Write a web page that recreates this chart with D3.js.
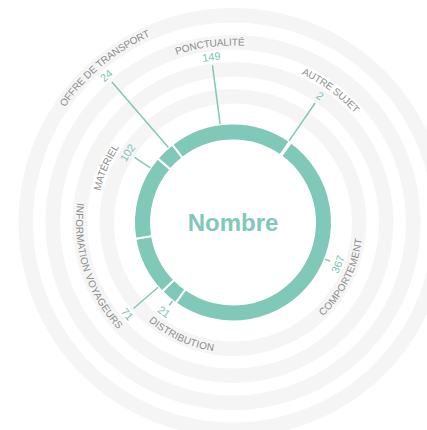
<!DOCTYPE html>
<html>
<head>
<meta charset="utf-8">
<script src="https://cdn.jsdelivr.net/npm/d3@7"></script>
<style>
	body { margin: 0; background: #fff; }
	svg { display: block; font-family: "Liberation Sans", Arial, sans-serif; }
	.band { fill: #f5f5f5; }
	.slice { fill: #80c8b8; stroke: #fff; stroke-width: 2; }
	.leader { stroke: #80c8b8; stroke-width: 1.5; fill: none; }
	.label { fill: #8c8c8c; font-size: 10px; }
	.value { fill: #7cc6b5; font-size: 11px; }
	.title { fill: #80c8b8; font-size: 24px; font-weight: bold; }
</style>
</head>
<body>
<div id="chart"></div>
<script>
var categories = ["AUTRE SUJET", "COMPORTEMENT", "DISTRIBUTION", "INFORMATION VOYAGEURS", "MATÉRIEL", "OFFRE DE TRANSPORT", "PONCTUALITÉ"];
var values = [2, 367, 21, 71, 102, 24, 149];
var title = "Nombre";

// layout: ring step for each label, and nudges (degrees) that keep the labels apart
var labelLevel = [3, 0, 0, 2, 1, 6, 4];
var lineShift = [-1, -14, -3, -14, 18, 3, -6];
var textShift = [2, 5, -13, 23, -10, 1, 0];

var Chart = function() {

	var svg, g,
		width = 427, height = 430,
		cx = 233, cy = 222.5,
		innerR = 82, outerR = 99,
		startDeg = 35;

	var rad = function(deg) { return deg * Math.PI / 180; };

	// point at angle (deg, clockwise from north) and radius r
	var polar = function(deg, r) {
		return [r * Math.sin(rad(deg)), -r * Math.cos(rad(deg))];
	};

	// half circle centred on deg, reversed on the lower half so text stays readable
	var textArc = function(r, deg) {
		var a = rad(deg - 90),
			p = d3.path(),
			d = ((deg % 360) + 360) % 360;
		if (d > 90 && d < 270) {
			p.arc(0, 0, r, a + Math.PI / 2, a - Math.PI / 2, true);
		} else {
			p.arc(0, 0, r, a - Math.PI / 2, a + Math.PI / 2, false);
		}
		return p.toString();
	};

	var render = function() {

		var pie, arc, slices, data, level, band;

		svg = d3.select("#chart").append("svg")
		.attr("width", width)
		.attr("height", height);

		g = svg.append("g")
		.attr("transform", "translate(" + cx + "," + cy + ")");

		// background rings
		band = d3.scaleLinear().domain([0, 1]).range([119, 146]);
		g.selectAll(".band")
		.data(d3.range(4))
		.enter()
		.append("path")
		.attr("class", "band")
		.attr("d", function(i) {
			return d3.arc()({innerRadius: band(i), outerRadius: band(i) + 14.5, startAngle: 0, endAngle: 2 * Math.PI});
		});

		// label ring radius from level
		level = d3.scaleLinear().domain([0, 1]).range([126.5, 140]);

		pie = d3.pie().sort(null)
		.startAngle(rad(startDeg))
		.endAngle(rad(startDeg + 360));

		arc = d3.arc().innerRadius(innerR).outerRadius(outerR);

		slices = pie(values);

		data = slices.map(function(s, i) {
			var mid = (s.startAngle + s.endAngle) / 2 * 180 / Math.PI,
				line = mid + lineShift[i],
				lr = level(labelLevel[i]);
			return {
				i: i,
				name: categories[i],
				value: values[i],
				lineDeg: line,
				textDeg: line + textShift[i],
				labelR: lr,
				valueR: lr - 13.5
			};
		});

		// donut
		g.selectAll(".slice")
		.data(slices)
		.enter()
		.append("path")
		.attr("class", "slice")
		.attr("d", arc);

		// leader lines from the ring to the values
		g.selectAll(".leader")
		.data(data)
		.enter()
		.append("line")
		.attr("class", "leader")
		.attr("x1", function(d) { return polar(d.lineDeg, outerR)[0]; })
		.attr("y1", function(d) { return polar(d.lineDeg, outerR)[1]; })
		.attr("x2", function(d) { return polar(d.lineDeg, d.valueR - 8.5)[0]; })
		.attr("y2", function(d) { return polar(d.lineDeg, d.valueR - 8.5)[1]; });

		// text paths
		var defs = svg.append("defs");
		data.forEach(function(d) {
			defs.append("path")
			.attr("id", "lp" + d.i)
			.attr("d", textArc(d.labelR, d.textDeg));
			defs.append("path")
			.attr("id", "vp" + d.i)
			.attr("d", textArc(d.valueR, d.lineDeg));
		});

		g.selectAll(".label")
		.data(data)
		.enter()
		.append("text")
		.attr("class", "label")
		.attr("dy", "0.35em")
		.append("textPath")
		.attr("href", function(d) { return "#lp" + d.i; })
		.attr("startOffset", "50%")
		.attr("text-anchor", "middle")
		.text(function(d) { return d.name; });

		g.selectAll(".value")
		.data(data)
		.enter()
		.append("text")
		.attr("class", "value")
		.attr("dy", "0.35em")
		.append("textPath")
		.attr("href", function(d) { return "#vp" + d.i; })
		.attr("startOffset", "50%")
		.attr("text-anchor", "middle")
		.text(function(d) { return d.value; });

		// centre title
		g.append("text")
		.attr("class", "title")
		.attr("text-anchor", "middle")
		.attr("dy", "0.35em")
		.text(title);
	};

	return {
		render: render
	};
};

Chart().render();
</script>
</body>
</html>
